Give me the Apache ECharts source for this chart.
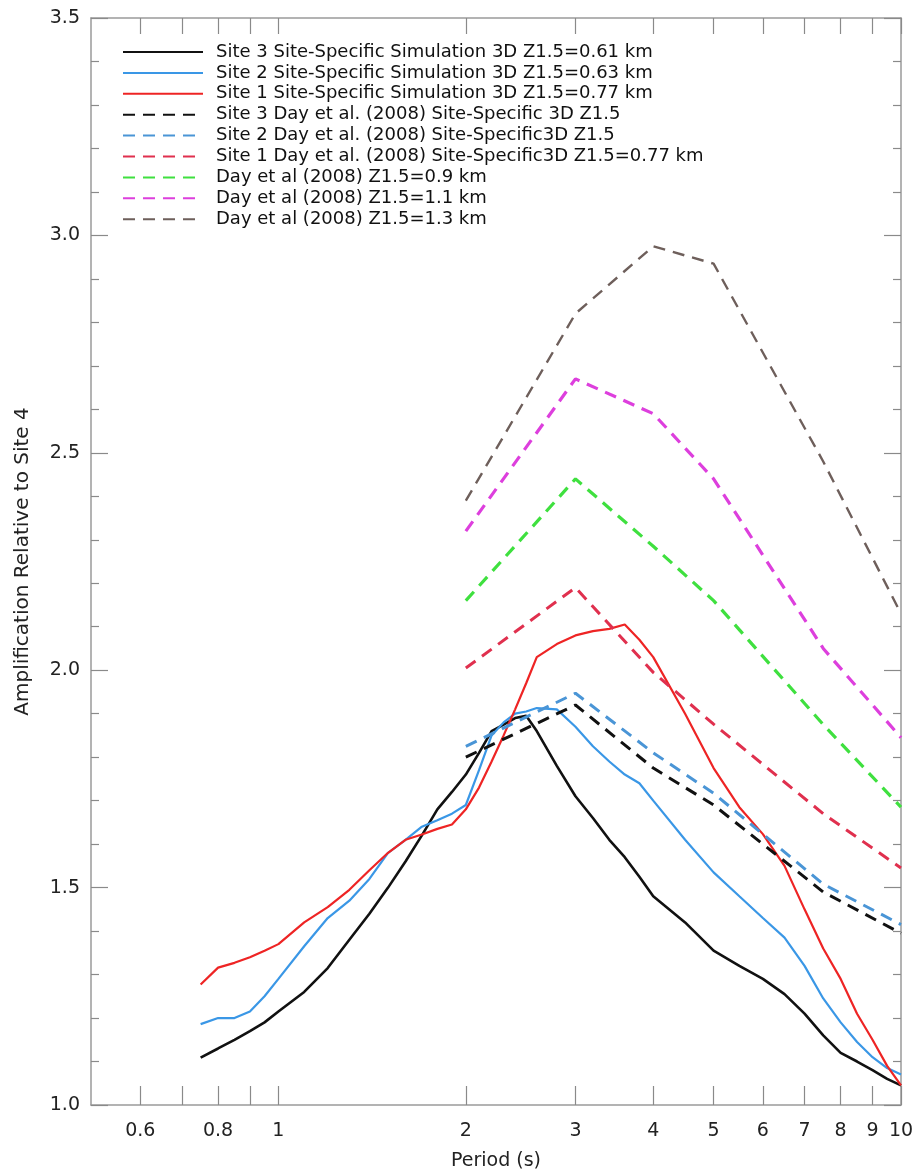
<!DOCTYPE html>
<html>
<head>
<meta charset="utf-8">
<script src="https://cdn.jsdelivr.net/npm/echarts@6/dist/echarts.min.js"></script>
<style>
html,body{margin:0;padding:0;background:#fff;}
#chart{width:913px;height:1169px;}
</style>
</head>
<body>
<div id="chart"></div>
<script>
// ---- data ----
const simPeriods = [0.75,0.8,0.85,0.9,0.95,1.0,1.1,1.2,1.3,1.4,1.5,1.6,1.7,1.8,1.9,2.0,2.1,2.2,2.3,2.4,2.5,2.6,2.8,3.0,3.2,3.4,3.6,3.8,4.0,4.5,5.0,5.5,6.0,6.5,7.0,7.5,8.0,8.5,9.0,9.5,10];
const site3Sim = [1.109,1.13,1.15,1.17,1.19,1.215,1.26,1.315,1.38,1.44,1.50,1.56,1.62,1.68,1.72,1.76,1.81,1.86,1.875,1.89,1.895,1.86,1.78,1.71,1.66,1.61,1.57,1.525,1.48,1.42,1.355,1.32,1.29,1.255,1.21,1.16,1.12,1.10,1.08,1.06,1.045];
const site2Sim = [1.186,1.20,1.20,1.215,1.25,1.29,1.365,1.43,1.47,1.52,1.58,1.61,1.64,1.655,1.67,1.69,1.77,1.85,1.88,1.90,1.905,1.913,1.91,1.87,1.825,1.79,1.76,1.74,1.70,1.61,1.535,1.48,1.43,1.385,1.32,1.245,1.19,1.145,1.11,1.085,1.07];
const site1Sim = [1.277,1.316,1.327,1.34,1.355,1.37,1.42,1.455,1.495,1.54,1.58,1.61,1.622,1.635,1.645,1.68,1.73,1.79,1.85,1.91,1.97,2.03,2.06,2.08,2.09,2.095,2.105,2.07,2.03,1.90,1.775,1.685,1.623,1.55,1.45,1.36,1.29,1.21,1.15,1.09,1.045];

const dayPeriods = [2,3,4,5,7.5,10];
const site3Day = [1.80,1.92,1.775,1.69,1.49,1.395];
const site2Day = [1.825,1.947,1.81,1.717,1.508,1.415];
const site1Day = [2.005,2.19,1.995,1.876,1.67,1.545];
const day09 = [2.16,2.44,2.285,2.16,1.875,1.685];
const day11 = [2.32,2.67,2.59,2.44,2.05,1.845];
const day13 = [2.39,2.82,2.975,2.935,2.48,2.13];

const seriesNames = [
  'Site 3 Site-Specific Simulation 3D Z1.5=0.61 km',
  'Site 2 Site-Specific Simulation 3D Z1.5=0.63 km',
  'Site 1 Site-Specific Simulation 3D Z1.5=0.77 km',
  'Site 3 Day et al. (2008) Site-Specific 3D Z1.5',
  'Site 2 Day et al. (2008) Site-Specific3D Z1.5',
  'Site 1 Day et al. (2008) Site-Specific3D Z1.5=0.77 km',
  'Day et al (2008) Z1.5=0.9 km',
  'Day et al (2008) Z1.5=1.1 km',
  'Day et al (2008) Z1.5=1.3 km'
];

const xTickValues = [0.6,0.7,0.8,0.9,1,2,3,4,5,6,7,8,9,10];
const xLabelValues = [0.6,0.8,1,2,3,4,5,6,7,8,9,10];
const yTicks = [1.0,1.5,2.0,2.5,3.0,3.5];

// ---- chart ----
const FONT = 'DejaVu Sans';
const zip = (xs, ys) => xs.map((x, i) => [x, ys[i]]);

function mk(name, xs, ys, color, width, dashed) {
  return {
    name: name,
    type: 'line',
    data: zip(xs, ys),
    symbol: 'none',
    smooth: false,
    xAxisIndex: 0,
    yAxisIndex: 0,
    lineStyle: { color: color, width: width, type: dashed ? [12, 8] : 'solid' },
    itemStyle: { color: color },
    emphasis: { disabled: true }
  };
}

const chart = echarts.init(document.getElementById('chart'), null, { renderer: 'canvas' });

const axisLineStyle = { color: '#9a9a9a', width: 1.5 };
const tickStyle = { color: '#8a8a8a', width: 1.2 };

const option = {
  animation: false,
  backgroundColor: '#fff',
  textStyle: { fontFamily: FONT },
  grid: { left: 91, right: 12, top: 18, bottom: 64, containLabel: false, outerBoundsMode: 'none' },
  legend: {
    show: true,
    orient: 'vertical',
    left: 117,
    top: 38,
    itemWidth: 80,
    itemHeight: 14,
    itemGap: 2.9,
    data: seriesNames,
    itemStyle: { opacity: 0 },
    textStyle: { fontFamily: FONT, fontSize: 18, color: '#111', padding: [0, 0, 0, 8] },
    selectedMode: false
  },
  xAxis: [
    {
      type: 'log', logBase: 10, min: 0.5, max: 10,
      position: 'bottom',
      name: 'Period (s)', nameLocation: 'middle', nameGap: 47,
      nameTextStyle: { fontFamily: FONT, fontSize: 19, color: '#222' },
      axisLine: { show: true, lineStyle: axisLineStyle },
      axisTick: { show: true, inside: true, length: 19, lineStyle: tickStyle, customValues: xTickValues },
      axisLabel: { show: true, fontFamily: FONT, fontSize: 19, color: '#222', margin: 17,
        customValues: xLabelValues, formatter: v => String(+(+v).toFixed(2)) },
      splitLine: { show: false },
      minorTick: { show: false }
    },
    {
      type: 'log', logBase: 10, min: 0.5, max: 10,
      position: 'top',
      axisLine: { show: true, lineStyle: axisLineStyle },
      axisTick: { show: true, inside: true, length: 16, lineStyle: tickStyle, customValues: xTickValues },
      axisLabel: { show: false },
      splitLine: { show: false }
    }
  ],
  yAxis: [
    {
      type: 'value', min: 1.0, max: 3.5, interval: 0.5,
      position: 'left',
      name: 'Amplification Relative to Site 4', nameLocation: 'middle', nameGap: 58,
      nameRotate: 90,
      nameTextStyle: { fontFamily: FONT, fontSize: 20, color: '#222' },
      axisLine: { show: true, lineStyle: axisLineStyle },
      axisTick: { show: true, inside: true, length: 17, lineStyle: tickStyle },
      minorTick: { show: true, splitNumber: 5, length: 8, lineStyle: tickStyle },
      axisLabel: { show: true, fontFamily: FONT, fontSize: 19, color: '#222', margin: 11,
        customValues: yTicks, formatter: v => (+v).toFixed(1) },
      splitLine: { show: false }
    },
    {
      type: 'value', min: 1.0, max: 3.5, interval: 0.5,
      position: 'right',
      axisLine: { show: true, lineStyle: axisLineStyle },
      axisTick: { show: true, inside: true, length: 17, lineStyle: tickStyle },
      minorTick: { show: true, splitNumber: 5, length: 8, lineStyle: tickStyle },
      axisLabel: { show: false },
      splitLine: { show: false }
    }
  ],
  series: [
    mk(seriesNames[0], simPeriods, site3Sim, '#111111', 2.6, false),
    mk(seriesNames[1], simPeriods, site2Sim, '#3a97e6', 2.2, false),
    mk(seriesNames[2], simPeriods, site1Sim, '#ee2424', 2.2, false),
    mk(seriesNames[3], dayPeriods, site3Day, '#111111', 3, true),
    mk(seriesNames[4], dayPeriods, site2Day, '#4a95d6', 3, true),
    mk(seriesNames[5], dayPeriods, site1Day, '#e0304e', 3, true),
    mk(seriesNames[6], dayPeriods, day09, '#3fe03f', 3.2, true),
    mk(seriesNames[7], dayPeriods, day11, '#dd3fdd', 3.2, true),
    mk(seriesNames[8], dayPeriods, day13, '#6e5f5b', 2.4, true)
  ]
};
chart.setOption(option);
</script>
</body>
</html>
